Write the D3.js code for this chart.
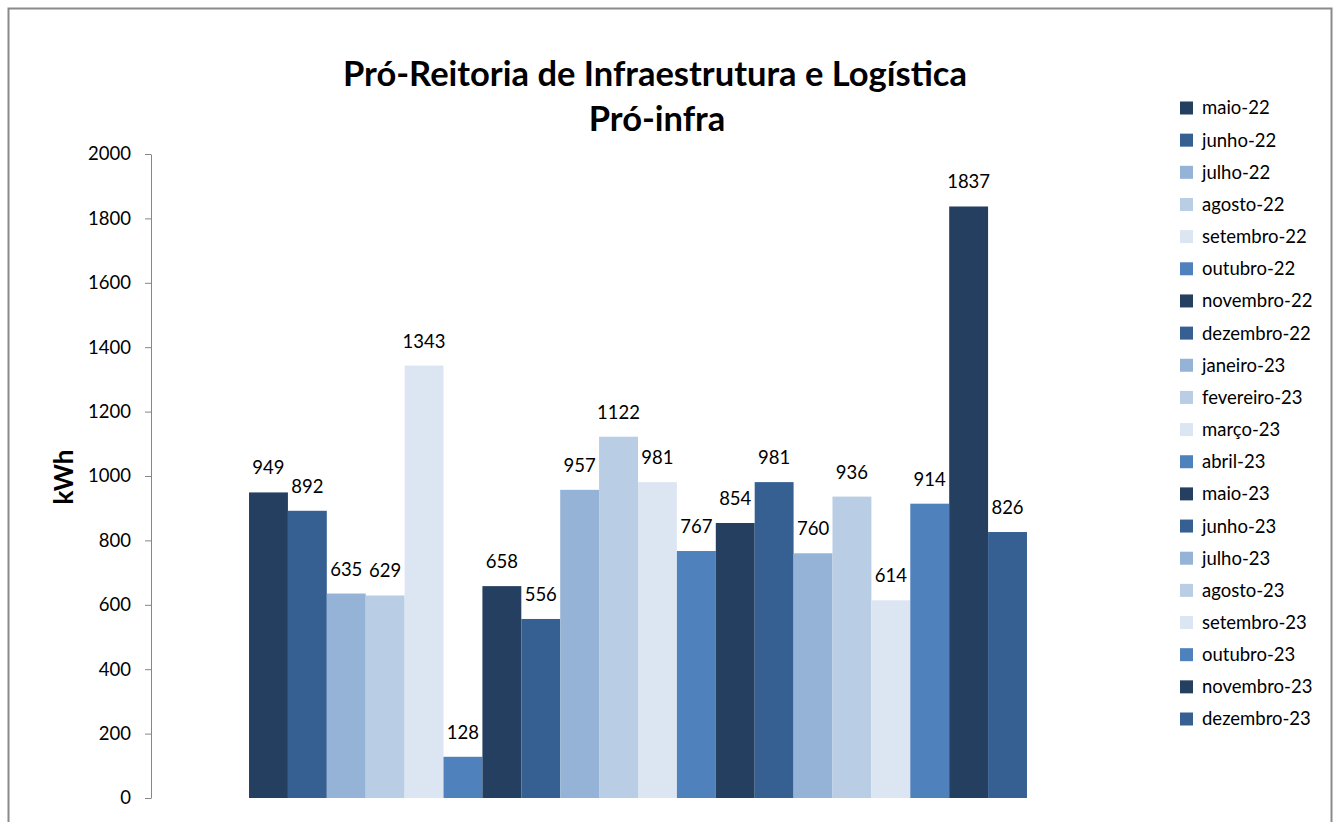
<!DOCTYPE html>
<html>
<head>
<meta charset="utf-8">
<script src="https://cdn.jsdelivr.net/npm/d3@7"></script>
<style>
  body { margin: 0; background: #fff; }
  svg { display: block; font-family: Lato, "Open Sans", sans-serif; }
</style>
</head>
<body>
<svg id="chart" width="1340" height="822"></svg>
<script>
const category = "Pró-infra";

const months = [
    "maio-22", "junho-22", "julho-22", "agosto-22", "setembro-22", "outubro-22",
    "novembro-22", "dezembro-22", "janeiro-23", "fevereiro-23", "março-23", "abril-23",
    "maio-23", "junho-23", "julho-23", "agosto-23", "setembro-23", "outubro-23",
    "novembro-23", "dezembro-23"
];

const values = [
    949, 892, 635, 629, 1343, 128,
    658, 556, 957, 1122, 981, 767,
    854, 981, 760, 936, 614, 914,
    1837, 826
];

const yTicks = [0, 200, 400, 600, 800, 1000, 1200, 1400, 1600, 1800, 2000];

// excel's blue palette, repeats every 6 series
const palette = ["#253f60", "#366092", "#95b3d7", "#b9cde5", "#dce6f2", "#4f81bd"];

const svg = d3.select("#chart");

const plot = { left: 151, right: 1125, top: 154, bottom: 798 };

// frame around the chart
svg.append("rect")
    .attr("x", 8.5)
    .attr("y", 8.5)
    .attr("width", 1323)
    .attr("height", 900)
    .attr("fill", "none")
    .attr("stroke", "#8a8a8a")
    .attr("stroke-width", 2);

// title
const title = svg.append("text")
    .attr("text-anchor", "middle")
    .attr("font-weight", "bold")
    .attr("font-size", 34.5)
    .attr("fill", "#000");
title.append("tspan").attr("x", 655).attr("y", 86).text("Pró-Reitoria de Infraestrutura e Logística");
title.append("tspan").attr("x", 657).attr("y", 131).text(category);

// scales
const yScale = d3.scaleLinear().domain([0, 2000]).range([plot.bottom, plot.top]);

const x0 = d3.scaleBand()
    .domain([category])
    .range([plot.left, plot.right])
    .paddingInner(0)
    .paddingOuter(0.126);

const x1 = d3.scaleBand()
    .domain(months)
    .range([0, x0.bandwidth()])
    .padding(0);

// y axis
const yAxis = svg.append("g")
    .attr("transform", `translate(${plot.left},0)`)
    .call(d3.axisLeft(yScale)
        .tickValues(yTicks)
        .tickFormat(d3.format("d"))
        .tickSize(6)
        .tickPadding(14)
        .tickSizeOuter(0));
yAxis.select(".domain").attr("stroke", "#868686");
yAxis.selectAll(".tick line").attr("stroke", "#868686");
yAxis.selectAll(".tick text")
    .attr("font-size", 18.5)
    .attr("font-family", "Lato, 'Open Sans', sans-serif")
    .attr("fill", "#000");

// y axis title
svg.append("text")
    .attr("transform", "translate(73,477) rotate(-90)")
    .attr("text-anchor", "middle")
    .attr("font-weight", "bold")
    .attr("font-size", 26)
    .attr("fill", "#000")
    .text("kWh");

// bars
const data = months.map((m, i) => ({ month: m, value: values[i], i }));

const group = svg.append("g")
    .attr("transform", `translate(${x0(category)},0)`);

group.selectAll("rect.bar")
    .data(data)
    .enter()
    .append("rect")
    .attr("class", "bar")
    .attr("x", d => x1(d.month))
    .attr("y", d => yScale(d.value))
    .attr("width", x1.bandwidth())
    .attr("height", d => yScale(0) - yScale(d.value))
    .attr("fill", d => palette[d.i % palette.length]);

// value labels
group.selectAll("text.label")
    .data(data)
    .enter()
    .append("text")
    .attr("class", "label")
    .attr("x", d => x1(d.month) + x1.bandwidth() / 2)
    .attr("y", d => yScale(d.value) - 18)
    .attr("text-anchor", "middle")
    .attr("font-size", 18.5)
    .attr("fill", "#000")
    .text(d => d.value);

// legend
const legendY = d3.scalePoint().domain(months).range([108, 719]);

const legend = svg.append("g");
const items = legend.selectAll("g.item")
    .data(data)
    .enter()
    .append("g")
    .attr("class", "item")
    .attr("transform", d => `translate(1180,${legendY(d.month)})`);

items.append("rect")
    .attr("x", 0)
    .attr("y", -6.5)
    .attr("width", 13)
    .attr("height", 13)
    .attr("fill", d => palette[d.i % palette.length]);

items.append("text")
    .attr("x", 22)
    .attr("y", 0)
    .attr("dy", "0.35em")
    .attr("font-size", 18.5)
    .attr("fill", "#000")
    .text(d => d.month);
</script>
</body>
</html>
